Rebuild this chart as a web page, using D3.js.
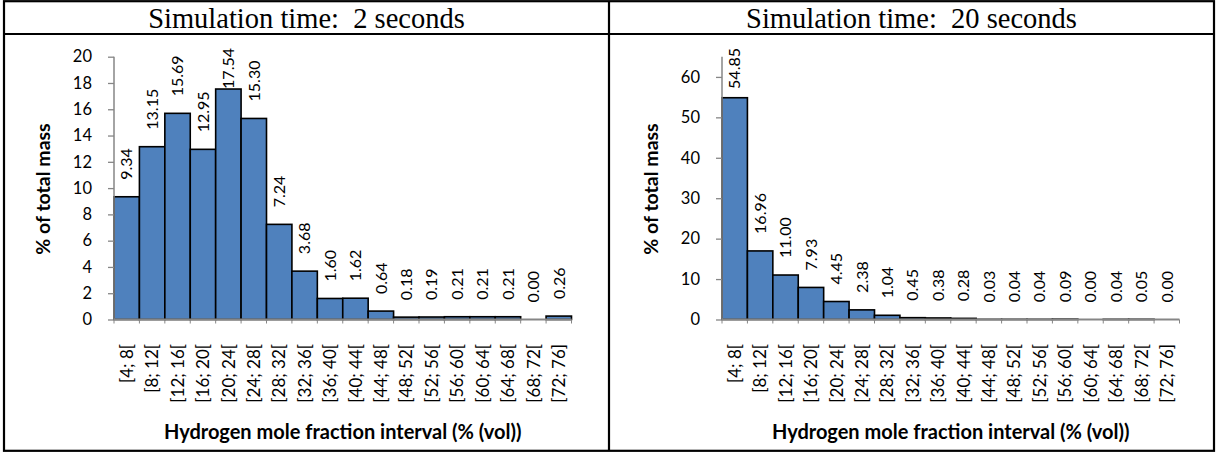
<!DOCTYPE html>
<html>
<head>
<meta charset="utf-8">
<script src="https://cdn.jsdelivr.net/npm/d3@7"></script>
<style>
  body { margin: 0; background: #fff; }
  svg text { font-family: Lato, "Open Sans", sans-serif; fill: #000; }
  .head { font-family: "Liberation Serif", "Times New Roman", serif !important; white-space: pre; }
</style>
</head>
<body>
<svg id="chart" width="1217" height="452"></svg>
<script>
// Hydrogen mole fraction classes (% vol)
const intervals = ["[4; 8[", "[8; 12[", "[12; 16[", "[16; 20[", "[20; 24[", "[24; 28[",
  "[28; 32[", "[32; 36[", "[36; 40[", "[40; 44[", "[44; 48[", "[48; 52[",
  "[52; 56[", "[56; 60[", "[60; 64[", "[64; 68[", "[68; 72[", "[72; 76]"];

// % of total mass in each class
const mass2s = [9.34, 13.15, 15.69, 12.95, 17.54, 15.30, 7.24, 3.68, 1.60, 1.62,
  0.64, 0.18, 0.19, 0.21, 0.21, 0.21, 0.00, 0.26];
const mass20s = [54.85, 16.96, 11.00, 7.93, 4.45, 2.38, 1.04, 0.45, 0.38, 0.28,
  0.03, 0.04, 0.04, 0.09, 0.00, 0.04, 0.05, 0.00];

const yTicks2s = [0, 2, 4, 6, 8, 10, 12, 14, 16, 18, 20];
const yTicks20s = [0, 10, 20, 30, 40, 50, 60];
const yMax2s = 20;
const yMax20s = 65;

const panelTitles = ["Simulation time:  2 seconds", "Simulation time:  20 seconds"];
const yTitle = "% of total mass";
const xTitle = "Hydrogen mole fraction interval (% (vol))";

const svg = d3.select("#chart");
const axisGrey = "#868686";
const barFill = "#4f81bd";

const panels = [
  { values: mass2s, ticks: yTicks2s, yMax: yMax2s, x0: 114, title: panelTitles[0], cellX0: 4, cellX1: 609 },
  { values: mass20s, ticks: yTicks20s, yMax: yMax20s, x0: 722, title: panelTitles[1], cellX0: 609, cellX1: 1214 }
];

const plotW = 457.5, plotTop = 56.7, plotBottom = 319.5, labelTopLimit = 48;

panels.forEach(p => {
  const x = d3.scaleBand().domain(intervals).range([p.x0, p.x0 + plotW]).padding(0);
  const y = d3.scaleLinear().domain([0, p.yMax]).range([plotBottom, plotTop]);
  const g = svg.append("g");

  // header cell title
  svg.append("text").attr("class", "head")
    .attr("x", (p.cellX0 + p.cellX1) / 2).attr("y", 28)
    .attr("text-anchor", "middle").attr("font-size", 28.5)
    .text(p.title);

  // bars
  g.selectAll("rect.bar").data(p.values.map((v, i) => ({ v, c: intervals[i] })).filter(d => d.v > 0))
    .join("rect").attr("class", "bar")
    .attr("x", d => x(d.c)).attr("width", x.bandwidth())
    .attr("y", d => y(d.v)).attr("height", d => y(0) - y(d.v))
    .attr("fill", barFill).attr("stroke", "#000").attr("stroke-width", 1.6);

  // y axis
  const ya = g.append("g").attr("transform", `translate(${p.x0},0)`)
    .call(d3.axisLeft(y).tickValues(p.ticks).tickSize(6).tickPadding(16).tickFormat(d3.format("d")));
  ya.select(".domain").attr("stroke", axisGrey).attr("stroke-width", 1.5)
    .attr("d", `M0,${y(p.yMax)}V${y(0)}`);
  ya.selectAll(".tick line").attr("stroke", axisGrey).attr("stroke-width", 1.3);
  ya.selectAll(".tick text").attr("font-size", 16.5).attr("font-family", "Lato, 'Open Sans', sans-serif").attr("fill", "#000");

  // x axis with ticks at class boundaries
  const xa = g.append("g").attr("transform", `translate(0,${plotBottom})`);
  xa.append("line").attr("x1", p.x0).attr("x2", p.x0 + plotW).attr("y1", 0).attr("y2", 0)
    .attr("stroke", axisGrey).attr("stroke-width", 2);
  const bounds = intervals.map(c => x(c)).concat([p.x0 + plotW]);
  xa.selectAll("line.tk").data(bounds).join("line").attr("class", "tk")
    .attr("x1", d => d).attr("x2", d => d).attr("y1", 0).attr("y2", 4)
    .attr("stroke", axisGrey).attr("stroke-width", 1);

  // category labels
  g.selectAll("text.cat").data(intervals).join("text").attr("class", "cat")
    .attr("transform", d => `translate(${x(d) + x.bandwidth() / 2},344) rotate(-90)`)
    .attr("dy", "0.36em").attr("text-anchor", "end").attr("font-size", 17)
    .text(d => d);

  // value labels above bars, kept inside the plot area
  const vl = g.selectAll("text.val").data(p.values.map((v, i) => ({ v, c: intervals[i] })))
    .join("text").attr("class", "val")
    .attr("font-size", 16).attr("dy", "0.36em").attr("text-anchor", "start")
    .text(d => d.v.toFixed(2));
  vl.each(function (d) {
    const len = this.getComputedTextLength();
    const start = Math.max(y(d.v) - 17, labelTopLimit + len);
    d3.select(this).attr("transform", `translate(${x(d.c) + x.bandwidth() / 2},${start}) rotate(-90)`);
  });

  // axis titles
  g.append("text").attr("font-weight", "bold").attr("font-size", 19.5)
    .attr("text-anchor", "middle")
    .attr("transform", `translate(${p.x0 - 71},189) rotate(-90)`).attr("dy", "0.36em")
    .text(yTitle);
  g.append("text").attr("font-weight", "bold").attr("font-size", 20)
    .attr("text-anchor", "middle")
    .attr("x", p.x0 + plotW / 2).attr("y", 439)
    .text(xTitle);
});

// table frame
const frame = svg.append("g").attr("stroke", "#000").attr("stroke-width", 2.2).attr("fill", "none");
frame.append("rect").attr("x", 4).attr("y", 1.2).attr("width", 1210).attr("height", 449.6);
frame.append("line").attr("x1", 4).attr("x2", 1214).attr("y1", 34).attr("y2", 34);
frame.append("line").attr("x1", 609).attr("x2", 609).attr("y1", 1.2).attr("y2", 450.8);
</script>
</body>
</html>
